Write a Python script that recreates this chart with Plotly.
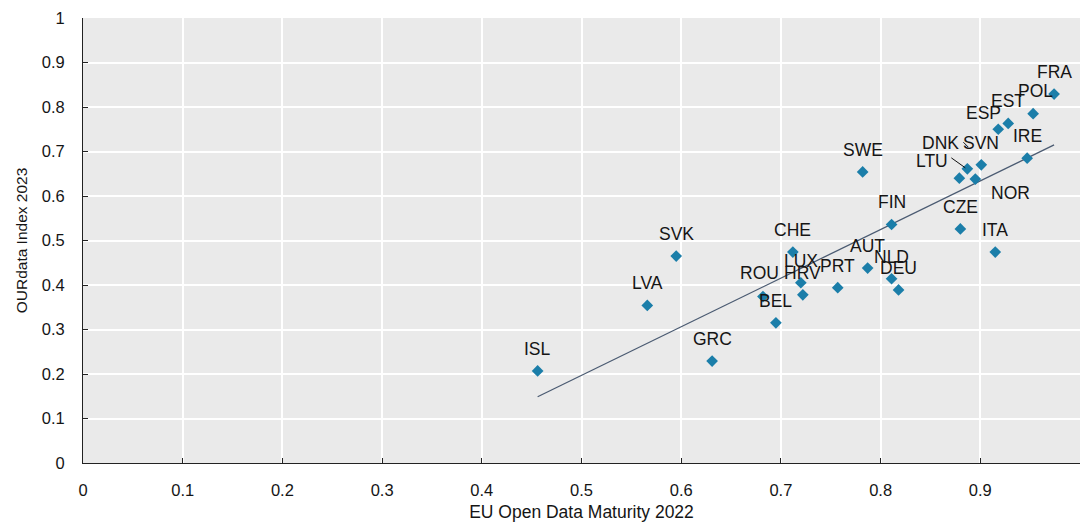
import numpy as np
import plotly.graph_objects as go

# Country codes and the two indicator scores
countries = ["ISL", "LVA", "SVK", "GRC", "ROU", "BEL", "CHE", "LUX", "HRV", "PRT",
             "SWE", "AUT", "FIN", "NLD", "DEU", "CZE", "DNK", "LTU", "NOR", "SVN",
             "ITA", "ESP", "EST", "IRE", "POL", "FRA"]
eu_odm_2022 = [0.456, 0.566, 0.595, 0.631, 0.682, 0.695, 0.712, 0.720, 0.722, 0.757,
               0.782, 0.787, 0.811, 0.811, 0.818, 0.880, 0.879, 0.887, 0.895, 0.901,
               0.915, 0.918, 0.928, 0.947, 0.953, 0.974]
ourdata_2023 = [0.207, 0.354, 0.465, 0.229, 0.374, 0.315, 0.474, 0.405, 0.378, 0.394,
                0.654, 0.438, 0.536, 0.414, 0.389, 0.526, 0.640, 0.661, 0.638, 0.670,
                0.474, 0.750, 0.763, 0.685, 0.785, 0.829]

x_ticks = [0, 0.1, 0.2, 0.3, 0.4, 0.5, 0.6, 0.7, 0.8, 0.9, 1]
y_ticks = [0, 0.1, 0.2, 0.3, 0.4, 0.5, 0.6, 0.7, 0.8, 0.9, 1]
tick_text = ["0", "0.1", "0.2", "0.3", "0.4", "0.5", "0.6", "0.7", "0.8", "0.9", "1"]

# Label placement (pixel offsets from each marker; default sits above)
DEFAULT_OFFSET = (0, 22)
label_offsets = {
    "POL": (2, 23),
    "ESP": (-15, 16),
    "DNK": (-19, 35),
    "LTU": (-35, 8),
    "NOR": (35, -14),
    "ROU": (-3, 24),
}
# Leader lines (pixel offsets from the marker: x0, y0, x1, y1, y measured upward)
leaders = {
    "LTU": (-16, 11, -2, 1),
    "DNK": (4, 36, 9, 31),
}

FONT = "Liberation Sans, Arial, sans-serif"
MARKER_COLOR = "#1b7ea9"
LINE_COLOR = "#4b5b72"
TEXT_COLOR = "#151515"

fig = go.Figure()

# Linear fit across all countries
slope, intercept = np.polyfit(eu_odm_2022, ourdata_2023, 1)
fit_x = np.array([min(eu_odm_2022), max(eu_odm_2022)])
fig.add_trace(go.Scatter(
    x=fit_x, y=slope * fit_x + intercept, mode="lines",
    line=dict(color=LINE_COLOR, width=1.3), hoverinfo="skip", showlegend=False))

fig.add_trace(go.Scatter(
    x=eu_odm_2022, y=ourdata_2023, mode="markers", text=countries,
    marker=dict(symbol="diamond", size=9, color=MARKER_COLOR, line=dict(width=0)),
    showlegend=False))

annotations = []
for c, xv, yv in zip(countries, eu_odm_2022, ourdata_2023):
    dx, dy = label_offsets.get(c, DEFAULT_OFFSET)
    annotations.append(dict(
        x=xv, y=yv, xref="x", yref="y", text=c, showarrow=False,
        xshift=dx, yshift=dy, xanchor="center", yanchor="middle",
        font=dict(family=FONT, size=17.5, color=TEXT_COLOR)))

shapes = []
for c, (x0, y0, x1, y1) in leaders.items():
    i = countries.index(c)
    shapes.append(dict(
        type="line", xref="x", yref="y",
        xsizemode="pixel", ysizemode="pixel",
        xanchor=eu_odm_2022[i], yanchor=ourdata_2023[i],
        x0=x0, y0=y0, x1=x1, y1=y1,
        line=dict(color="#111111", width=1)))

axis_common = dict(
    showgrid=True, gridcolor="white", gridwidth=1.6,
    zeroline=False, showline=True, linecolor="#222222", linewidth=1,
    ticks="inside", ticklen=5, tickcolor="#222222", tickwidth=1,
    tickfont=dict(family=FONT, size=16.5, color=TEXT_COLOR),
)

fig.update_layout(
    width=1083, height=524,
    margin=dict(l=83, r=3, t=18, b=61),
    paper_bgcolor="white", plot_bgcolor="#eaeaea",
    font=dict(family=FONT, color=TEXT_COLOR),
    xaxis=dict(range=[0, 1], tickvals=x_ticks, ticktext=tick_text,
               ticklabelstandoff=12,
               title=dict(text="EU Open Data Maturity 2022", standoff=7,
                          font=dict(family=FONT, size=17.5, color=TEXT_COLOR)),
               **axis_common),
    yaxis=dict(range=[0, 1], tickvals=y_ticks, ticktext=tick_text,
               ticklabelstandoff=14,
               title=dict(text="OURdata Index 2023", standoff=10,
                          font=dict(family=FONT, size=15.5, color=TEXT_COLOR)),
               **axis_common),
    annotations=annotations,
    shapes=shapes,
)

fig.write_html("out.html")
